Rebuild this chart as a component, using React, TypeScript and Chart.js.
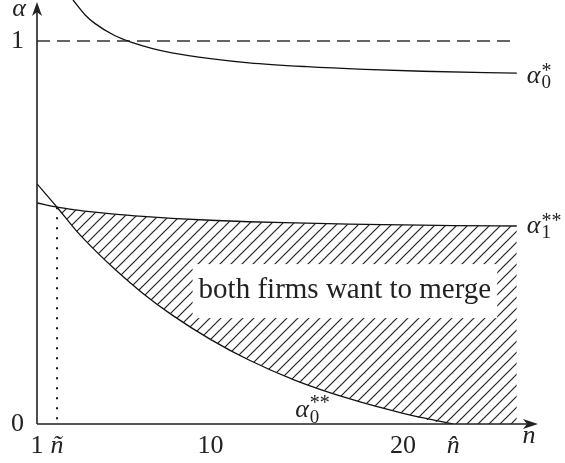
import React, { useEffect, useRef } from 'react';
import { Chart, registerables } from 'chart.js';

Chart.register(...registerables);

// ---- data ----
const nGrid = [1, 2.04, 3, 4, 5, 6.5, 8, 10, 12, 14.4, 17.2, 20, 22.6, 25.9];
const alpha1SS = [0.577, 0.566, 0.559, 0.553, 0.548, 0.542, 0.537, 0.532, 0.528, 0.525, 0.522, 0.52, 0.518, 0.517];
const alpha0SS: (number | null)[] = [0.627, 0.566, 0.507, 0.454, 0.406, 0.341, 0.285, 0.221, 0.167, 0.114, 0.066, 0.028, 0, null];

const nStar = [2.87, 3.5, 4, 5, 6, 7, 8, 10, 12, 15, 18, 21, 25.9];
const alpha0Star = [1.107, 1.068, 1.046, 1.015, 0.995, 0.98, 0.969, 0.954, 0.943, 0.933, 0.926, 0.921, 0.916];

const nTilde = 2.04;
const nHat = 22.6;
const dashedLevel = 1;
const dashedRange = [1, 25.75];

const xTickValues = [1, nTilde, 10, 20, nHat];
const xTickLabels = ['1', 'ñ', '10', '20', 'n̂'];
const yTickValues = [0, 1];
const yTickLabels = ['0', '1'];

const regionLabel = 'both firms want to merge';
const regionAnchor = { n: 16.98, a: 0.347 };
const alpha0SSLabelAnchor = { n: 14.4, a: 0.018 };

const SERIF = '"Liberation Serif", "DejaVu Serif", serif';
const INK = '#222';

function drawArrowHead(ctx: CanvasRenderingContext2D, tipX: number, tipY: number, dir: 'up' | 'right') {
  ctx.save();
  ctx.fillStyle = INK;
  ctx.beginPath();
  if (dir === 'up') {
    ctx.moveTo(tipX, tipY);
    ctx.lineTo(tipX + 5, tipY + 14);
    ctx.lineTo(tipX, tipY + 10);
    ctx.lineTo(tipX - 5, tipY + 14);
  } else {
    ctx.moveTo(tipX, tipY);
    ctx.lineTo(tipX - 15, tipY - 5);
    ctx.lineTo(tipX - 11, tipY);
    ctx.lineTo(tipX - 15, tipY + 5);
  }
  ctx.closePath();
  ctx.fill();
  ctx.restore();
}

function drawAlphaLabel(
  ctx: CanvasRenderingContext2D,
  left: number,
  base: number,
  sub: string,
  sup: string,
  subDy: number,
  supDy: number
) {
  ctx.save();
  ctx.fillStyle = INK;
  ctx.textBaseline = 'alphabetic';
  ctx.textAlign = 'left';
  ctx.font = `italic 26px ${SERIF}`;
  ctx.fillText('α', left, base);
  const w = ctx.measureText('α').width;
  ctx.font = `19px ${SERIF}`;
  ctx.fillText(sub, left + w + 1, base + subDy);
  ctx.font = `20px ${SERIF}`;
  ctx.fillText(sup, left + w + 1, base + supDy);
  ctx.restore();
}

const decoPlugin = {
  id: 'deco',
  afterDatasetsDraw(chart: any) {
    const { ctx, scales } = chart;
    const x = scales.x;
    const y = scales.y;
    const cx = x.getPixelForValue(regionAnchor.n);
    const cy = y.getPixelForValue(regionAnchor.a);
    ctx.save();
    ctx.font = `29px ${SERIF}`;
    const tw = ctx.measureText(regionLabel).width;
    const bw = tw + 12;
    const bh = 54;
    ctx.fillStyle = '#fff';
    ctx.fillRect(cx - bw / 2, cy - bh / 2, bw, bh);
    ctx.fillStyle = INK;
    ctx.textAlign = 'center';
    ctx.textBaseline = 'alphabetic';
    ctx.fillText(regionLabel, cx, cy + 7);
    ctx.restore();
  },
  afterDraw(chart: any) {
    const { ctx, scales, chartArea } = chart;
    const x = scales.x;
    const y = scales.y;
    const ox = x.getPixelForValue(1);
    const oy = y.getPixelForValue(0);
    ctx.save();
    ctx.strokeStyle = INK;
    ctx.lineWidth = 1.6;
    ctx.beginPath();
    ctx.moveTo(ox, oy);
    ctx.lineTo(ox, chartArea.top + 10);
    ctx.moveTo(ox, oy);
    ctx.lineTo(chartArea.right - 8, oy);
    ctx.stroke();
    ctx.restore();
    drawArrowHead(ctx, ox, chartArea.top + 2, 'up');
    drawArrowHead(ctx, chartArea.right, oy, 'right');

    ctx.save();
    ctx.fillStyle = INK;
    ctx.font = `italic 26px ${SERIF}`;
    ctx.textAlign = 'center';
    ctx.textBaseline = 'alphabetic';
    ctx.fillText('α', ox - 18, chartArea.top + 16);
    ctx.fillText('n', chartArea.right - 9, oy + 19);
    ctx.restore();

    const endStarX = x.getPixelForValue(nStar[nStar.length - 1]);
    const endStarY = y.getPixelForValue(alpha0Star[alpha0Star.length - 1]);
    drawAlphaLabel(ctx, endStarX + 10, endStarY + 10, '0', '*', 5, -6);

    const end1X = x.getPixelForValue(nGrid[nGrid.length - 1]);
    const end1Y = y.getPixelForValue(alpha1SS[alpha1SS.length - 1]);
    drawAlphaLabel(ctx, end1X + 10, end1Y + 7, '1', '**', 5, -6);

    drawAlphaLabel(
      ctx,
      x.getPixelForValue(alpha0SSLabelAnchor.n),
      y.getPixelForValue(alpha0SSLabelAnchor.a),
      '0',
      '**',
      6,
      -8
    );
  },
};

export default function App() {
  const ref = useRef<HTMLCanvasElement>(null);

  useEffect(() => {
    const canvas = ref.current;
    if (!canvas) return;
    let chart: Chart | null = null;
    let cancelled = false;

    const build = () => {
      if (cancelled) return;
      const ctx = canvas.getContext('2d')!;
      const pc = document.createElement('canvas');
      const P = 11;
      pc.width = P;
      pc.height = P;
      const g = pc.getContext('2d')!;
      g.strokeStyle = INK;
      g.lineWidth = 1.2;
      g.beginPath();
      g.moveTo(-1, P + 1);
      g.lineTo(P + 1, -1);
      g.moveTo(-2, 2);
      g.lineTo(2, -2);
      g.moveTo(P - 2, P + 2);
      g.lineTo(P + 2, P - 2);
      g.stroke();
      const pattern = ctx.createPattern(pc, 'repeat');

      const hatchUpper = nGrid
        .map((n, i) => ({ x: n, y: alpha1SS[i] }))
        .filter((p) => p.x >= nTilde);
      const hatchLower = nGrid
        .map((n, i) => ({ x: n, y: alpha0SS[i] ?? 0 }))
        .filter((p) => p.x >= nTilde);
      const a1 = nGrid.map((n, i) => ({ x: n, y: alpha1SS[i] }));
      const a0 = nGrid
        .map((n, i) => ({ x: n, y: alpha0SS[i] }))
        .filter((p) => p.y !== null) as { x: number; y: number }[];
      const aStar = nStar.map((n, i) => ({ x: n, y: alpha0Star[i] }));
      const tildeIdx = nGrid.indexOf(nTilde);

      const curveStyle = {
        borderColor: '#111',
        borderWidth: 1.3,
        pointRadius: 0,
        fill: false,
        cubicInterpolationMode: 'monotone' as const,
      };

      chart = new Chart(canvas, {
        type: 'line',
        data: {
          datasets: [
            {
              label: 'hatch-upper',
              data: hatchUpper,
              borderWidth: 0,
              borderColor: 'rgba(0,0,0,0)',
              pointRadius: 0,
              backgroundColor: pattern as any,
              fill: '+1',
              cubicInterpolationMode: 'monotone',
            },
            {
              label: 'hatch-lower',
              data: hatchLower,
              borderWidth: 0,
              borderColor: 'rgba(0,0,0,0)',
              pointRadius: 0,
              fill: false,
              cubicInterpolationMode: 'monotone',
            },
            { label: 'α1**', data: a1, ...curveStyle },
            { label: 'α0**', data: a0, ...curveStyle },
            { label: 'α0*', data: aStar, ...curveStyle },
            {
              label: 'one',
              data: [
                { x: dashedRange[0], y: dashedLevel },
                { x: dashedRange[1], y: dashedLevel },
              ],
              borderColor: '#333',
              borderWidth: 1.3,
              borderDash: [13, 7],
              pointRadius: 0,
              fill: false,
            },
            {
              label: 'ntilde',
              data: [
                { x: nTilde, y: alpha1SS[tildeIdx] },
                { x: nTilde, y: 0 },
              ],
              borderColor: '#111',
              borderWidth: 2,
              borderDash: [2, 8],
              pointRadius: 0,
              fill: false,
            },
          ],
        },
        options: {
          responsive: false,
          animation: false,
          events: [],
          layout: { padding: { top: 0, right: 27, left: 0, bottom: 0 } },
          plugins: {
            legend: { display: false },
            tooltip: { enabled: false },
            filler: { propagate: false },
          },
          scales: {
            x: {
              type: 'linear',
              min: 1,
              max: 27,
              grid: { display: false, drawTicks: false },
              border: { display: false },
              afterBuildTicks: (s: any) => {
                s.ticks = xTickValues.map((v) => ({ value: v }));
              },
              afterFit: (s: any) => {
                s.height = 39;
                s.paddingLeft = 0;
                s.paddingRight = 0;
              },
              ticks: {
                autoSkip: false,
                maxRotation: 0,
                minRotation: 0,
                padding: 7,
                color: INK,
                font: (c: any) => ({
                  family: SERIF,
                  size: 26,
                  style: c.index === 1 || c.index === 4 ? 'italic' : 'normal',
                }),
                callback: (_v: any, i: number) => xTickLabels[i],
              },
            },
            y: {
              type: 'linear',
              min: 0,
              max: 1.107,
              grid: { display: false, drawTicks: false },
              border: { display: false },
              afterBuildTicks: (s: any) => {
                s.ticks = yTickValues.map((v) => ({ value: v }));
              },
              afterFit: (s: any) => {
                s.width = 37;
                s.paddingTop = 0;
                s.paddingBottom = 0;
              },
              ticks: {
                autoSkip: false,
                padding: 13,
                color: INK,
                font: { family: SERIF, size: 26 },
                callback: (_v: any, i: number) => yTickLabels[i],
              },
            },
          },
        },
        plugins: [decoPlugin],
      });
    };

    const loads = [
      `26px ${SERIF}`,
      `italic 26px ${SERIF}`,
    ].map((f) => (document as any).fonts?.load?.(f, 'αn0') ?? Promise.resolve());
    Promise.all(loads).then(build, build);

    return () => {
      cancelled = true;
      if (chart) chart.destroy();
    };
  }, []);

  return (
    <div style={{ position: 'fixed', left: 0, top: 0, width: 565, height: 463, background: '#fff' }}>
      <canvas ref={ref} width={565} height={463} style={{ display: 'block' }} />
    </div>
  );
}
